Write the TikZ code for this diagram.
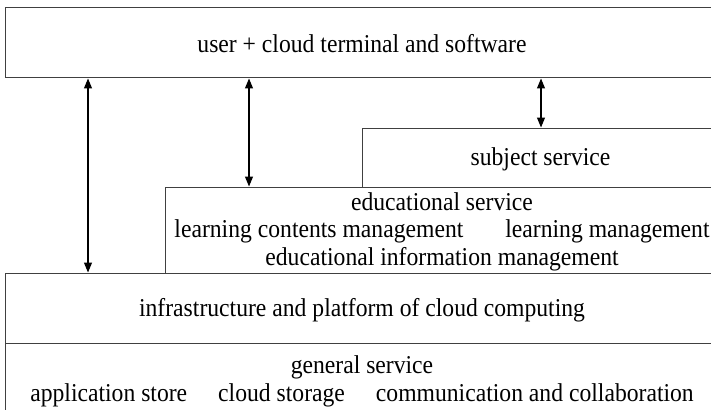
\documentclass[tikz,border=0pt]{standalone}
\usepackage{fontspec}
\setmainfont[FakeStretch=0.92]{Liberation Serif}
\usetikzlibrary{arrows.meta}
\begin{document}
\begin{tikzpicture}[x=1pt,y=-1pt,
  layer/.style={draw=black!75, line width=1pt, inner sep=0pt},
  caption/.style={inner sep=0pt, align=center,
    font=\fontsize{25.7}{27.5}\selectfont},
  link/.style={line width=1.1pt, {Triangle[length=10pt,width=8pt]}-{Triangle[length=10pt,width=8pt]}}]
  \useasboundingbox (0,0) rectangle (711,409);
  \clip (0,0) rectangle (711,409);
  \fill[white] (0,0) rectangle (711,409);

  % stacked service layers
  \node[layer, minimum width=714pt, minimum height=70pt] (user) at (362,43) {};
  \node[layer, minimum width=357pt, minimum height=59pt] (subject) at (540.5,157.5) {};
  \node[layer, minimum width=554pt, minimum height=86pt] (edu) at (442,230) {};
  \node[layer, minimum width=714pt, minimum height=70pt] (infra) at (362,308) {};
  \node[layer, minimum width=714pt, minimum height=72pt] (general) at (362,379) {};

  % layer captions
  \node[caption] (usertext) at ([yshift=-1pt]user.center)
    {user + cloud terminal and software};
  \node[caption] (subjecttext) at ([yshift=-1.5pt]subject.center)
    {subject service};
  \node[caption] (edutext) at ([yshift=-1.5pt]edu.center)
    {educational service\\
     learning contents management\hspace{42pt}learning management\\
     educational information management};
  \node[caption] (infratext) at ([yshift=-2pt]infra.center)
    {infrastructure and platform of cloud computing};
  \node[caption] (generaltext) at ([yshift=-2.5pt]general.center)
    {general service\\
     application store\hspace{31pt}cloud storage\hspace{31pt}communication and collaboration};

  % links between the terminal layer and the service layers
  \coordinate (l1) at (88,0);
  \coordinate (l2) at (249,0);
  \coordinate (l3) at (541,0);
  \draw[link] (user.south -| l1) -- (infra.north -| l1);
  \draw[link] (user.south -| l2) -- (edu.north -| l2);
  \draw[link] (user.south -| l3) -- (subject.north -| l3);
\end{tikzpicture}
\end{document}
